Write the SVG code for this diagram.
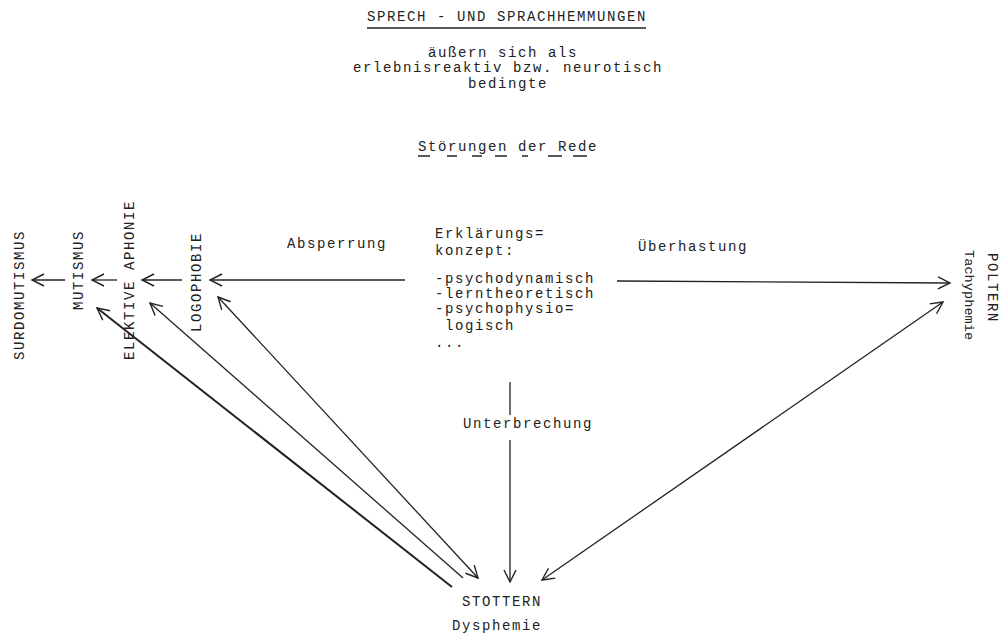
<svg xmlns="http://www.w3.org/2000/svg" width="1003" height="638" viewBox="0 0 1003 638">
<style>
text{font-family:"Liberation Mono","DejaVu Sans Mono",monospace;font-size:14px;letter-spacing:1.6px;fill:#222}
.t2{font-size:13.5px;letter-spacing:0.1px}
.c line{stroke:#222;stroke-width:1.3;fill:none}
.u line{stroke:#222;stroke-width:1.5}
</style>
<defs>
<marker id="ah" markerUnits="userSpaceOnUse" markerWidth="30" markerHeight="30" viewBox="-15 -15 30 30" refX="0" refY="0" orient="auto-start-reverse">
<path d="M-12,-6 L0,0 L-12,6" fill="none" stroke="#222" stroke-width="1.4"/>
</marker>
</defs>
<rect width="1003" height="638" fill="#fff"/>
<g id="header">
<text x="367" y="21">SPRECH - UND SPRACHHEMMUNGEN</text>
<text x="428" y="57">äußern sich als</text>
<text x="353" y="72">erlebnisreaktiv bzw. neurotisch</text>
<text x="468" y="88">bedingte</text>
<text x="418" y="151">Störungen der Rede</text>
<g class="u">
<line x1="367" y1="28" x2="646" y2="28"/>
<line x1="418" y1="156" x2="430" y2="156"/>
<line x1="447" y1="156" x2="457" y2="156"/>
<line x1="472" y1="156" x2="482" y2="156"/>
<line x1="495" y1="156" x2="507" y2="156"/>
<line x1="522" y1="156" x2="528" y2="156"/>
<line x1="548" y1="156" x2="562" y2="156"/>
<line x1="573" y1="156" x2="587" y2="156"/>
</g>
</g>
<g id="surdomutismus"><text transform="translate(24,360) rotate(-90)">SURDOMUTISMUS</text></g>
<g id="mutismus"><text transform="translate(83,310) rotate(-90)">MUTISMUS</text></g>
<g id="elektive-aphonie"><text transform="translate(134,360) rotate(-90)">ELEKTIVE APHONIE</text></g>
<g id="logophobie"><text transform="translate(201,332) rotate(-90)">LOGOPHOBIE</text></g>
<g id="poltern">
<text transform="translate(988,253) rotate(90)">POLTERN</text>
<text class="t2" transform="translate(965,250) rotate(90)">Tachyphemie</text>
</g>
<g id="konzept">
<text x="435" y="238">Erklärungs=</text>
<text x="435" y="255">konzept:</text>
<text x="435" y="283">-psychodynamisch</text>
<text x="435" y="298">-lerntheoretisch</text>
<text x="435" y="313">-psychophysio=</text>
<text x="445" y="330">logisch</text>
<text x="435" y="347">...</text>
</g>
<g id="stottern">
<text x="462" y="606">STOTTERN</text>
<text x="452" y="630">Dysphemie</text>
</g>
<g id="labels">
<text x="287" y="248">Absperrung</text>
<text x="638" y="251">Überhastung</text>
<text x="463" y="428">Unterbrechung</text>
</g>
<g id="connectors" class="c">
<line x1="405" y1="280" x2="210" y2="280" marker-end="url(#ah)"/>
<line x1="182" y1="280" x2="142" y2="280" marker-end="url(#ah)"/>
<line x1="117" y1="280" x2="92" y2="280" marker-end="url(#ah)"/>
<line x1="65" y1="280" x2="32" y2="280" marker-end="url(#ah)"/>
<line x1="617" y1="281" x2="950" y2="283" marker-end="url(#ah)"/>
<line x1="510" y1="382" x2="510" y2="415"/>
<line x1="510" y1="440" x2="510" y2="582" marker-end="url(#ah)"/>
<line x1="452" y1="587" x2="97" y2="308" marker-end="url(#ah)" style="stroke-width:2"/>
<line x1="463" y1="578" x2="150" y2="303" marker-end="url(#ah)"/>
<line x1="218" y1="297" x2="478" y2="578" marker-start="url(#ah)" marker-end="url(#ah)"/>
<line x1="542" y1="580" x2="943" y2="302" marker-start="url(#ah)" marker-end="url(#ah)"/>
</g>
</svg>
